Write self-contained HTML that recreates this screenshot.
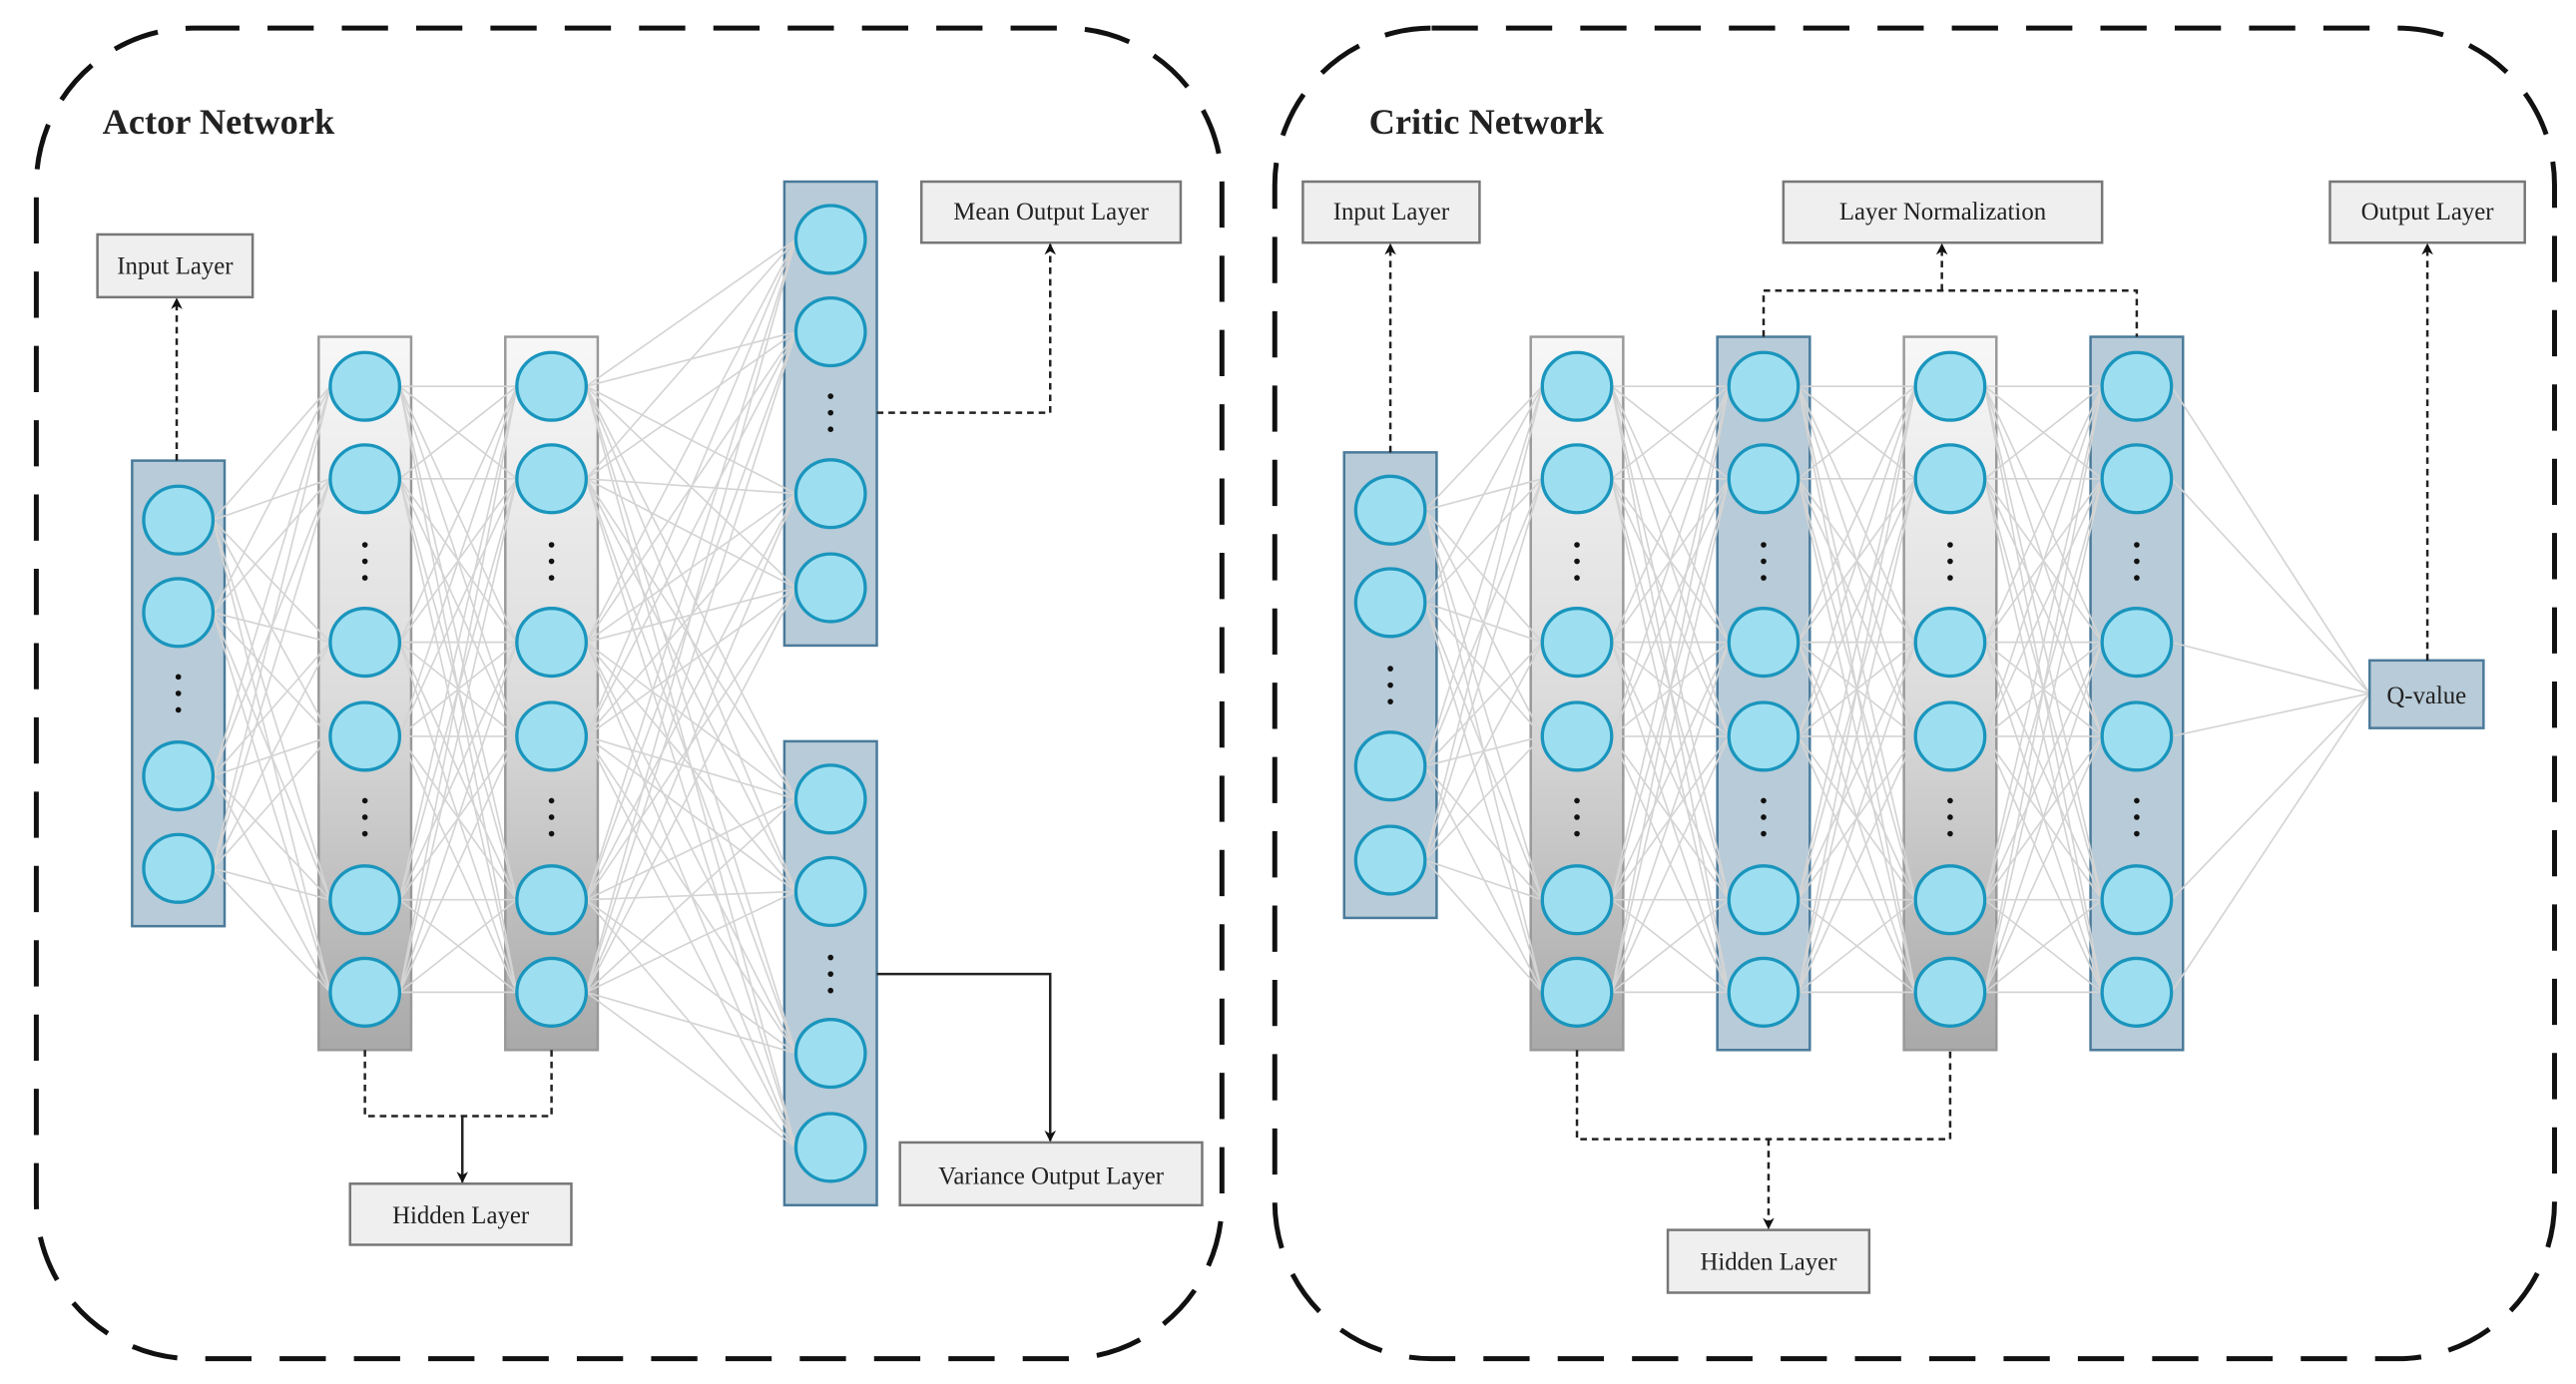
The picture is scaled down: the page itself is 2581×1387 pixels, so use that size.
<!DOCTYPE html>
<html><head><meta charset="utf-8"><style>
html,body{margin:0;padding:0;background:#fff;}
svg{display:block;}
text{font-family:"Liberation Serif",serif;fill:#222;}
</style></head><body>
<svg id="s" width="2581" height="1387" viewBox="0 0 1560 838.3" xmlns="http://www.w3.org/2000/svg">
<defs>
<linearGradient id="g" x1="0" y1="0" x2="0" y2="1">
<stop offset="0" stop-color="#f7f7f7"/><stop offset="0.5" stop-color="#dcdcdc"/><stop offset="1" stop-color="#a9a9a9"/>
</linearGradient>
<marker id="ar" viewBox="0 0 10 10" refX="9" refY="5" markerWidth="7" markerHeight="7" orient="auto-start-reverse" markerUnits="userSpaceOnUse">
<path d="M0,0 L10,5 L0,10 L3,5 z" fill="#111"/></marker>
</defs>
<rect x="22" y="17" width="718" height="806" rx="95" fill="none" stroke="#111" stroke-width="3" stroke-dasharray="28 17"/>
<rect x="772" y="17" width="775" height="806" rx="95" fill="none" stroke="#111" stroke-width="3" stroke-dasharray="28 17"/>
<text x="62" y="81" font-size="22" font-weight="bold">Actor Network</text>
<text x="829" y="81" font-size="22" font-weight="bold">Critic Network</text>
<g id="lines" stroke="#d4d4d4" stroke-width="1"></g>
<g id="cols"></g>
<g fill="#efefef" stroke="#777" stroke-width="1.5">
<rect x="59" y="142" width="94" height="38"/>
<rect x="558" y="110" width="157" height="37"/>
<rect x="545" y="692" width="183" height="38"/>
<rect x="212" y="717" width="134" height="37"/>
<rect x="789" y="110" width="107" height="37"/>
<rect x="1080" y="110" width="193" height="37"/>
<rect x="1411" y="110" width="118" height="37"/>
<rect x="1010" y="745" width="122" height="38"/>
</g>
<rect x="1435" y="400" width="69" height="41" fill="#b8cbd8" stroke="#4a7a9a" stroke-width="1.5"/>
<g font-size="15" text-anchor="middle">
<text x="106" y="166">Input Layer</text>
<text x="636.5" y="133">Mean Output Layer</text>
<text x="636.5" y="717">Variance Output Layer</text>
<text x="279" y="741">Hidden Layer</text>
<text x="842.5" y="133">Input Layer</text>
<text x="1176.5" y="133">Layer Normalization</text>
<text x="1470" y="133">Output Layer</text>
<text x="1071" y="769">Hidden Layer</text>
<text x="1469.5" y="426">Q-value</text>
</g>
<g fill="none" stroke="#222" stroke-width="1.5">
<path d="M107,279 V181" stroke-dasharray="4 3" marker-end="url(#ar)"/>
<path d="M531,250 H636 V148" stroke-dasharray="4 3" marker-end="url(#ar)"/>
<path d="M531,590 H636 V691" marker-end="url(#ar)"/>
<path d="M221,636 V676 H334 V636" stroke-dasharray="4 3"/>
<path d="M280,676 V716" marker-end="url(#ar)"/>
<path d="M842,274 V148" stroke-dasharray="4 3" marker-end="url(#ar)"/>
<path d="M1068,204 V176 H1294 V204" stroke-dasharray="4 3"/>
<path d="M1176,176 V148" stroke-dasharray="4 3" marker-end="url(#ar)"/>
<path d="M1470,400 V148" stroke-dasharray="4 3" marker-end="url(#ar)"/>
<path d="M955,636 V690 H1181 V636" stroke-dasharray="4 3"/>
<path d="M1071,690 V744" stroke-dasharray="4 3" marker-end="url(#ar)"/>
</g>
</svg>
<script>
var NS="http://www.w3.org/2000/svg";
function el(p,t,a){var e=document.createElementNS(NS,t);for(var k in a)e.setAttribute(k,a[k]);p.appendChild(e);return e;}
var H=[234,290,389,446,545,601],HD=[340,495];
var cols={
 ain:{x:80,y:279,h:282,c:[315,371,470,526],d:[420],b:1},
 ah1:{x:193,y:204,h:432,c:H,d:HD,b:0},
 ah2:{x:306,y:204,h:432,c:H,d:HD,b:0},
 am:{x:475,y:110,h:281,c:[145,201,299,356],d:[250],b:1},
 av:{x:475,y:449,h:281,c:[484,540,638,695],d:[590],b:1},
 cin:{x:814,y:274,h:282,c:[309,365,464,521],d:[415],b:1},
 c1:{x:927,y:204,h:432,c:H,d:HD,b:0},
 c2:{x:1040,y:204,h:432,c:H,d:HD,b:1},
 c3:{x:1153,y:204,h:432,c:H,d:HD,b:0},
 c4:{x:1266,y:204,h:432,c:H,d:HD,b:1}
};
var C=document.getElementById('cols');
var order=['ain','ah1','ah2','am','av','cin','c1','c2','c3','c4'];
var cg=el(C,'g',{}),lg=el(C,'g',{stroke:'#d4d4d4','stroke-width':1}),og=el(C,'g',{});
function conn(a,b){a=cols[a];b=cols[b];a.c.forEach(function(y1){b.c.forEach(function(y2){el(lg,'line',{x1:a.x+49,y1:y1,x2:b.x+7,y2:y2});});});}
order.forEach(function(k){var c=cols[k];
 el(cg,'rect',{x:c.x,y:c.y,width:56,height:c.h,fill:c.b?'#b8cbd8':'url(#g)',stroke:c.b?'#4a7a9a':'#999','stroke-width':1.5});
 c.c.forEach(function(y){el(og,'ellipse',{cx:c.x+28,cy:y,rx:21,ry:20.5,fill:'#9ddff0',stroke:'#1a95bd','stroke-width':2});});
 c.d.forEach(function(y){[-10,0,10].forEach(function(o){el(og,'circle',{cx:c.x+28,cy:y+o,r:1.7,fill:'#111'});});});
});
conn('ain','ah1');conn('ah1','ah2');conn('ah2','am');conn('ah2','av');
conn('cin','c1');conn('c1','c2');conn('c2','c3');conn('c3','c4');
cols.c4.c.forEach(function(y){el(lg,'line',{x1:1315,y1:y,x2:1435,y2:420});});
</script>
</body></html>
